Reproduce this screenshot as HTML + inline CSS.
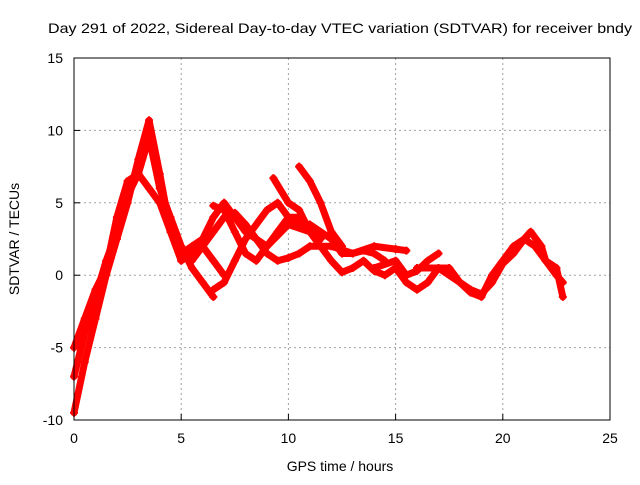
<!DOCTYPE html>
<html><head><meta charset="utf-8"><style>
body{margin:0;background:#fff;width:640px;height:480px;overflow:hidden}
svg{font-family:"Liberation Sans",sans-serif}
</style></head><body>
<svg id="chart" width="640" height="480" viewBox="0 0 640 480">
<text x="340" y="33" font-size="14" text-anchor="middle" textLength="584" lengthAdjust="spacingAndGlyphs">Day 291 of 2022, Sidereal Day-to-day VTEC variation (SDTVAR) for receiver bndy</text>
<text x="340" y="471" font-size="14" text-anchor="middle">GPS time / hours</text>
<text x="0" y="0" font-size="14" text-anchor="middle" transform="translate(19,239) rotate(-90)">SDTVAR / TECUs</text>
<g id="grid"></g>
<g id="axes"></g>
<g id="series"></g>
<rect x="74" y="58" width="536" height="362" fill="none" stroke="#000" stroke-width="1"/>
</svg>
<script>
const xTicks=[0,5,10,15,20,25];
const yTicks=[-10,-5,0,5,10,15];
const s1=[[0,-9.5],[0.5,-6],[1,-3],[1.5,0],[2,2.5],[2.5,5],[3,8],[3.5,10.7],[4,7],[4.5,3],[5,1],[5.5,1.5],[6,2],[6.5,1],[7,0]];
const s2=[[0,-7],[0.5,-4],[1,-1.5],[1.5,1],[2,3],[2.5,5.5],[3,7],[3.5,9.5],[4,6],[4.5,4],[5,2],[5.5,0.5],[6,-0.5],[6.5,-1.5]];
const s3=[[0,-5],[0.5,-3],[1,-1],[1.5,0.5],[2,4],[2.5,6.5],[3,7],[3.5,6],[4,5],[4.5,3],[5,1.5],[5.5,2],[6,2.5],[6.5,4],[7,5],[7.5,4],[8,3],[9,2],[10,3.5],[11,3]];
const s4=[[6.5,-1],[7,-0.5],[7.5,1],[8,2.5],[9,4.5],[9.5,5],[10,4],[10.5,3.5],[11,3.5],[12,2.5],[12.5,1.5],[13,1.5],[14,2],[15,1.8],[15.5,1.7]];
const s5=[[6.5,4.8],[7,4.5],[7.5,3],[8,1.5],[8.5,1],[9,2],[9.5,3],[10,4],[10.5,4],[11,3],[11.5,2],[12,1],[12.5,0.2],[13,0.5],[13.5,1],[14,0.3],[14.5,0],[15,0.5],[15.5,-0.5],[16,-1],[16.5,-0.5],[17,0.5],[17.5,0.5],[18,-0.5],[18.5,-1.2],[19,-1.5],[19.5,0],[20,1],[20.5,2],[21,2.5],[21.5,2],[22,1],[22.5,0],[22.8,-0.5]];
const s6=[[5.5,1],[6,2],[6.5,3],[7,4],[7.5,4.3],[8,3.5],[8.5,2.5],[9,1.5],[9.5,1],[10,1.2],[10.5,1.5],[11,2],[12,2],[13,1.5],[13.5,1.7],[14,1.5],[14.5,1]];
const s7=[[9.3,6.7],[10,5],[10.5,4.5],[11,3],[11.5,2.5]];
const s8=[[10.5,7.5],[11,6.5],[11.5,5],[12,3],[12.5,2]];
const s9=[[14,0.5],[15,1],[15.5,0],[16,0.3],[16.5,1],[17,1.5]];
const s10=[[16,0.5],[17,0.5],[18,-0.5],[18.5,-1],[19,-1.3],[19.5,-0.5],[20,0.8],[20.5,1.5],[21,2.5],[21.3,3],[21.8,2],[22,1],[22.5,0.5],[22.8,-1.5]];
const allSeries=[s1,s2,s3,s4,s5,s6,s7,s8,s9,s10];
const X=v=>74+v*536/25, Y=v=>420-(v+10)*362/25;
const NS="http://www.w3.org/2000/svg";
const grid=document.getElementById('grid'),axes=document.getElementById('axes'),ser=document.getElementById('series');
function mk(t,a,p){const e=document.createElementNS(NS,t);for(const k in a)e.setAttribute(k,a[k]);p.appendChild(e);return e;}
xTicks.forEach(t=>{
 if(t>0&&t<25){const g=mk('line',{x1:X(t),x2:X(t),y1:58,y2:420,stroke:'#a0a0a0','stroke-dasharray':'2,3'},grid);
 
 }
 const tk=mk('line',{x1:X(t),x2:X(t),y1:420,y2:414,stroke:'#000'},axes);
 
 
 const l=mk('text',{x:X(t),y:443,'font-size':14,'text-anchor':'middle'},axes);l.textContent=t;
 
 
});
yTicks.forEach(t=>{
 if(t>-10&&t<15){const g=mk('line',{x1:74,x2:610,y1:Y(t),y2:Y(t),stroke:'#a0a0a0','stroke-dasharray':'2,3'},grid);
 
 }
 const tk=mk('line',{x1:74,x2:80,y1:Y(t),y2:Y(t),stroke:'#000'},axes);
 
 
 const l=mk('text',{x:63,y:Y(t)+5,'font-size':14,'text-anchor':'end'},axes);l.textContent=t;
 
 
});
allSeries.forEach(s=>{
 const p=mk('polyline',{points:s.map(d=>X(d[0])+','+Y(d[1])).join(' '),fill:'none',stroke:'#ff0000','stroke-width':7,'stroke-linejoin':'round','stroke-linecap':'round'},ser);
 
 
 s.forEach(d=>{
  const m=mk('path',{d:`M${X(d[0])-4},${Y(d[1])}h8M${X(d[0])},${Y(d[1])-4}v8`,stroke:'#ff0000','stroke-width':2},ser);
  
  
 });
});
</script>
</body></html>
